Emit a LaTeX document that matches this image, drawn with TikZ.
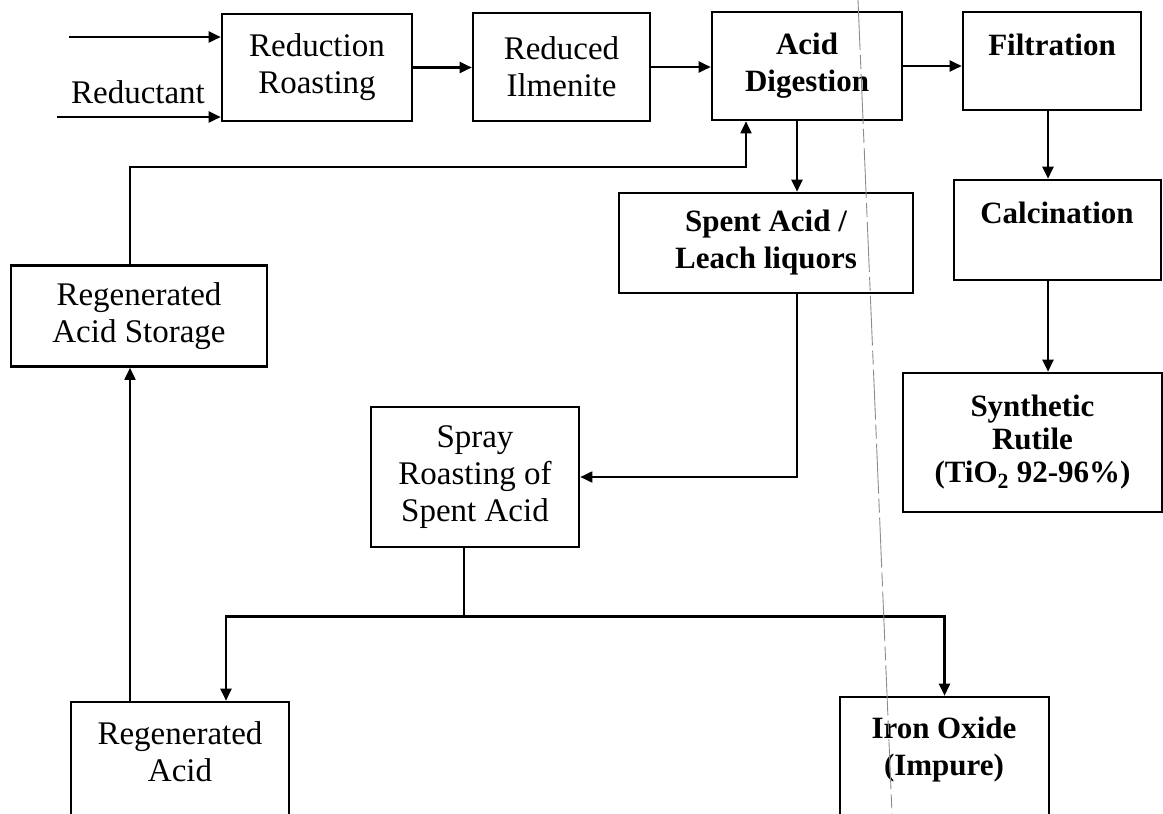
\documentclass[tikz,border=0pt]{standalone}
\usepackage{fontspec}
\setmainfont{Liberation Serif}
\usetikzlibrary{arrows.meta,calc}

\tikzset{
    flowbox/.style={draw, line width=2.6pt, rectangle, inner sep=0pt, align=center, font=\fontsize{33}{37}\selectfont},
    boldtext/.style={align=center, font=\fontsize{31}{37}\selectfont\bfseries},
    plaintext/.style={align=center, font=\fontsize{33}{37}\selectfont},
    flow/.style={line width=2.4pt, -{Triangle[length=12pt,width=11pt]}},
    thinflow/.style={line width=1.8pt, -{Triangle[length=12pt,width=11pt]}},
}

\begin{document}
\begin{tikzpicture}[x=1pt, y=-1pt]
    \useasboundingbox (0,0) rectangle (1163,814);
    \clip (0,0) rectangle (1163,814);

    % top row
    \node[flowbox, minimum width=190, minimum height=107] (rr) at (317,67.5) {Reduction\\Roasting};
    \node[flowbox, minimum width=177, minimum height=108] (ri) at (561.5,67) {Reduced\\Ilmenite};
    \node[flowbox, boldtext, minimum width=190, minimum height=108] (ad) at (807,66) {Acid\\Digestion};
    \node[flowbox, minimum width=178, minimum height=98] (filt) at (1052,61) {};
    \node[boldtext] (filttext) at (1052,45) {Filtration};

    % right column
    \node[flowbox, minimum width=207, minimum height=100] (calc) at (1057.5,230) {};
    \node[boldtext] (calctext) at (1057,213) {Calcination};
    \node[flowbox, boldtext, minimum width=259, minimum height=139, font=\fontsize{31}{33}\selectfont\bfseries] (sr) at (1032.5,442.5) {Synthetic\\Rutile\\(TiO\textsubscript{2} 92-96\%)};

    % acid loop
    \node[flowbox, boldtext, minimum width=294, minimum height=100] (sa) at (766,243) {Spent Acid /\\Leach liquors};
    \node[flowbox, minimum width=256, minimum height=101] (ras) at (139,316) {Regenerated\\Acid Storage};
    \node[flowbox, minimum width=208, minimum height=140] (spray) at (475,477) {Spray\\Roasting of\\Spent Acid};
    \node[flowbox, minimum width=218, minimum height=128] (ra) at (180,766) {};
    \node[plaintext] (ratext) at (180,752) {Regenerated\\Acid};
    \node[flowbox, minimum width=209, minimum height=133] (io) at (944.5,763.5) {};
    \node[boldtext] (iotext) at (944,750) {Iron Oxide\\(Impure)};

    % feeds
    \node[plaintext] (redlbl) at (138,92) {Reductant};
    \coordinate (feedin) at (69,37);
    \coordinate (redin) at (57,117);
    \draw[flow] (feedin) -- (feedin -| rr.west);
    \draw[flow] (redin) -- (redin -| rr.west);

    % main line
    \draw[flow] (rr.east) -- (rr.east -| ri.west);
    \draw[flow] (ri.east) -- (ri.east -| ad.west);
    \draw[flow] (ad.east) -- (ad.east -| filt.west);
    \coordinate (filtout) at ($(filt.south)+(-4,0)$);
    \draw[flow] (filtout) -- (filtout |- calc.north);
    \draw[flow] (filtout |- calc.south) -- (filtout |- sr.north);

    % spent acid to spray roaster
    \coordinate (adout) at ($(ad.south)+(-10,0)$);
    \draw[flow] (adout) -- (adout |- sa.north);
    \coordinate (saout) at ($(sa.south)+(31,0)$);
    \draw[thinflow] (saout) |- (spray.east);

    % split after roasting
    \coordinate (sprayout) at ($(spray.south)+(-11,0)$);
    \coordinate (split) at ($(sprayout)+(0,68)$);
    \coordinate (rain) at ($(ra.north)+(46,0)$);
    \draw[line width=1.8pt] (sprayout) -- (split);
    \draw[flow] (split) -| (rain);
    \draw[flow] (split) -| (io.north);

    % recycle of acid
    \coordinate (raout) at ($(ra.north)+(-50,0)$);
    \draw[thinflow] (raout) -- (raout |- ras.south);
    \coordinate (rasout) at ($(ras.north)+(-9,0)$);
    \coordinate (adin) at ($(ad.south)+(-61,0)$);
    \coordinate (recyc) at ($(adin)+(0,46)$);
    \draw[thinflow] (rasout) |- (recyc) -- (adin);

    % fold line of the scan
    \draw[black!45, line width=0.9pt, dash pattern=on 50pt off 5pt on 14pt off 5pt] (858,0) -- (892,814);
\end{tikzpicture}
\end{document}
